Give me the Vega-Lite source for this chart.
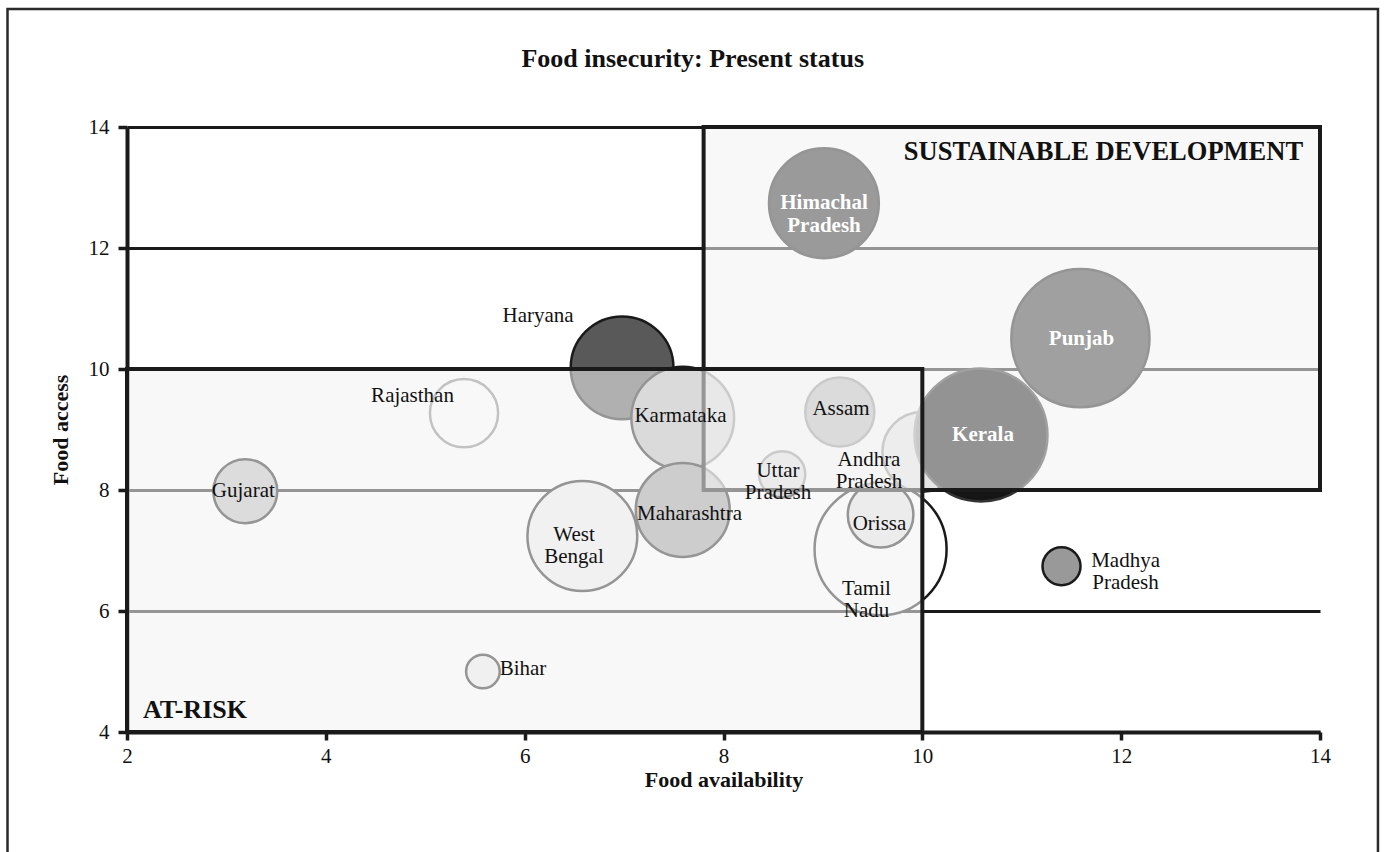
{
  "$schema": "https://vega.github.io/schema/vega-lite/v6.json",
  "width": 1193,
  "height": 605,
  "autosize": {"type": "none"},
  "padding": {"left": 127, "top": 127, "right": 65, "bottom": 120},
  "background": "white",
  "config": {"view": {"stroke": null}, "font": "Liberation Serif"},
  "title": {
    "text": "Food insecurity: Present status",
    "font": "Liberation Serif",
    "fontSize": 26,
    "fontWeight": "bold",
    "color": "#111111",
    "anchor": "middle",
    "frame": "bounds",
    "offset": -64
  },
  "datasets": {
    "frame": [{"x1": 0.798, "x2": 14.583, "y1": 1.72, "y2": 15.95}],
    "regions": [
      {"region": "SUSTAINABLE DEVELOPMENT", "x1": 7.8, "x2": 14, "y1": 8, "y2": 14, "lx": 13.83, "ly": 13.455},
      {"region": "AT-RISK", "x1": 2, "x2": 10, "y1": 4, "y2": 10, "lx": 2.16, "ly": 4.23}
    ],
    "states": [
      {"state": "Tamil Nadu", "label": "Tamil\nNadu", "x": 9.58, "y": 7.02, "value": 55.5, "lx": 9.438, "ly": 6.364},
      {"state": "West Bengal", "label": "West\nBengal", "x": 6.58, "y": 7.24, "value": 38.4, "lx": 6.496, "ly": 7.256},
      {"state": "Andhra Pradesh", "label": "Andhra\nPradesh", "x": 10.0, "y": 8.63, "value": 20.3, "lx": 9.463, "ly": 8.496},
      {"state": "Orissa", "label": "Orissa", "x": 9.58, "y": 7.59, "value": 13.7, "lx": 9.569, "ly": 7.438},
      {"state": "Kerala", "label": "Kerala", "x": 10.59, "y": 8.91, "value": 56.3, "lx": 10.61, "ly": 8.901},
      {"state": "Punjab", "label": "Punjab", "x": 11.59, "y": 10.51, "value": 60.8, "lx": 11.601, "ly": 10.488},
      {"state": "Himachal Pradesh", "label": "Himachal\nPradesh", "x": 9.01, "y": 12.74, "value": 38.4, "lx": 9.011, "ly": 12.736},
      {"state": "Haryana", "label": "Haryana", "x": 6.98, "y": 10.02, "value": 33.6, "lx": 6.135, "ly": 10.884},
      {"state": "Karmataka", "label": "Karmataka", "x": 7.59, "y": 9.19, "value": 33.6, "lx": 7.567, "ly": 9.223},
      {"state": "Maharashtra", "label": "Maharashtra", "x": 7.59, "y": 7.67, "value": 28.1, "lx": 7.658, "ly": 7.603},
      {"state": "Rajasthan", "label": "Rajasthan", "x": 5.39, "y": 9.27, "value": 14.8, "lx": 4.872, "ly": 9.554},
      {"state": "Gujarat", "label": "Gujarat", "x": 3.19, "y": 7.98, "value": 13.0, "lx": 3.17, "ly": 7.983},
      {"state": "Assam", "label": "Assam", "x": 9.17, "y": 9.29, "value": 15.2, "lx": 9.182, "ly": 9.331},
      {"state": "Uttar Pradesh", "label": "Uttar\nPradesh", "x": 8.59, "y": 8.26, "value": 6.8, "lx": 8.548, "ly": 8.306},
      {"state": "Madhya Pradesh", "label": "Madhya\nPradesh", "x": 11.4, "y": 6.74, "value": 4.6, "lx": 12.044, "ly": 6.826},
      {"state": "Bihar", "label": "Bihar", "x": 5.58, "y": 5.0, "value": 3.6, "lx": 5.983, "ly": 5.041}
    ]
  },
  "layer": [
    {
      "data": {"name": "frame"},
      "mark": {"type": "rect", "filled": false, "stroke": "#2a2a2a", "strokeWidth": 2.5},
      "encoding": {
        "x": {"field": "x1", "type": "quantitative", "scale": {"domain": [2, 14], "nice": false, "zero": false},
          "axis": {
            "title": "Food availability",
            "values": [2, 4, 6, 8, 10, 12, 14],
            "format": "d",
            "grid": false,
            "domainColor": "#1a1a1a", "domainWidth": 4,
            "tickColor": "#1a1a1a", "tickWidth": 3.5, "tickSize": 8,
            "labelFont": "Liberation Serif", "labelFontSize": 21, "labelColor": "#111111", "labelPadding": 5,
            "labelFlush": false, "labelOverlap": false,
            "titleFont": "Liberation Serif", "titleFontSize": 22, "titleFontWeight": "bold", "titleColor": "#111111", "titlePadding": 3
          }},
        "x2": {"field": "x2"},
        "y": {"field": "y1", "type": "quantitative", "scale": {"domain": [4, 14], "nice": false, "zero": false},
          "axis": {
            "title": "Food access",
            "values": [4, 6, 8, 10, 12, 14],
            "format": "d",
            "grid": true, "gridColor": "#1a1a1a", "gridWidth": 3,
            "domainColor": "#1a1a1a", "domainWidth": 4,
            "tickColor": "#1a1a1a", "tickWidth": 3.5, "tickSize": 9,
            "labelFont": "Liberation Serif", "labelFontSize": 21, "labelColor": "#111111", "labelPadding": 9,
            "labelFlush": false, "labelOverlap": false,
            "titleFont": "Liberation Serif", "titleFontSize": 22, "titleFontWeight": "bold", "titleColor": "#111111", "titlePadding": 16
          }},
        "y2": {"field": "y2"}
      }
    },
    {
      "data": {"name": "states"},
      "mark": {"type": "circle", "opacity": 1, "fillOpacity": 1, "strokeWidth": 2.5},
      "encoding": {
        "x": {"field": "x", "type": "quantitative"},
        "y": {"field": "y", "type": "quantitative"},
        "size": {"field": "value", "type": "quantitative", "scale": {"type": "linear", "domain": [0, 100], "range": [0, 31416]}, "legend": null},
        "fill": {"field": "state", "type": "nominal", "legend": null,
          "scale": {
            "domain": ["Tamil Nadu", "West Bengal", "Andhra Pradesh", "Orissa", "Kerala", "Punjab", "Himachal Pradesh", "Haryana", "Karmataka", "Maharashtra", "Rajasthan", "Gujarat", "Assam", "Uttar Pradesh", "Madhya Pradesh", "Bihar"],
            "range": ["#ffffff", "#efefef", "#d3d3d3", "#e3e3e3", "#151515", "#343434", "#262626", "#595959", "#b9b9b9", "#9b9b9b", "#ffffff", "#bebebe", "#777777", "#c8c8c8", "#999999", "#ececec"]
          }},
        "stroke": {
          "condition": [
            {"test": "datum.state === 'Rajasthan'", "value": "#838383"},
            {"test": "datum.state === 'Kerala'", "value": "#333333"}
          ],
          "value": "#1a1a1a"
        }
      }
    },
    {
      "data": {"name": "regions"},
      "mark": {"type": "rect", "fill": "#f3f3f3", "fillOpacity": 0.57, "stroke": "#1a1a1a", "strokeWidth": 4, "strokeOpacity": 1},
      "encoding": {
        "x": {"field": "x1", "type": "quantitative"},
        "x2": {"field": "x2"},
        "y": {"field": "y1", "type": "quantitative"},
        "y2": {"field": "y2"}
      }
    },
    {
      "data": {"name": "regions"},
      "transform": [{"filter": "datum.region === 'AT-RISK'"}],
      "mark": {"type": "text", "align": "left", "baseline": "alphabetic", "font": "Liberation Serif", "fontSize": 26, "fontWeight": "bold", "color": "#111111"},
      "encoding": {
        "x": {"field": "lx", "type": "quantitative"},
        "y": {"field": "ly", "type": "quantitative"},
        "text": {"field": "region"}
      }
    },
    {
      "data": {"name": "regions"},
      "transform": [{"filter": "datum.region !== 'AT-RISK'"}],
      "mark": {"type": "text", "align": "right", "baseline": "alphabetic", "font": "Liberation Serif", "fontSize": 26.5, "fontWeight": "bold", "color": "#111111"},
      "encoding": {
        "x": {"field": "lx", "type": "quantitative"},
        "y": {"field": "ly", "type": "quantitative"},
        "text": {"field": "region"}
      }
    },
    {
      "data": {"name": "states"},
      "transform": [{"filter": "indexof(['Himachal Pradesh', 'Punjab', 'Kerala'], datum.state) < 0"}],
      "mark": {"type": "text", "align": "center", "baseline": "middle", "font": "Liberation Serif", "fontSize": 21, "lineBreak": "\n", "lineHeight": 22, "color": "#111111"},
      "encoding": {
        "x": {"field": "lx", "type": "quantitative"},
        "y": {"field": "ly", "type": "quantitative"},
        "text": {"field": "label"}
      }
    },
    {
      "data": {"name": "states"},
      "transform": [{"filter": "indexof(['Himachal Pradesh', 'Punjab', 'Kerala'], datum.state) >= 0"}],
      "mark": {"type": "text", "align": "center", "baseline": "middle", "font": "Liberation Serif", "fontSize": 21, "fontWeight": "bold", "lineBreak": "\n", "lineHeight": 23, "color": "#ffffff"},
      "encoding": {
        "x": {"field": "lx", "type": "quantitative"},
        "y": {"field": "ly", "type": "quantitative"},
        "text": {"field": "label"}
      }
    }
  ]
}
